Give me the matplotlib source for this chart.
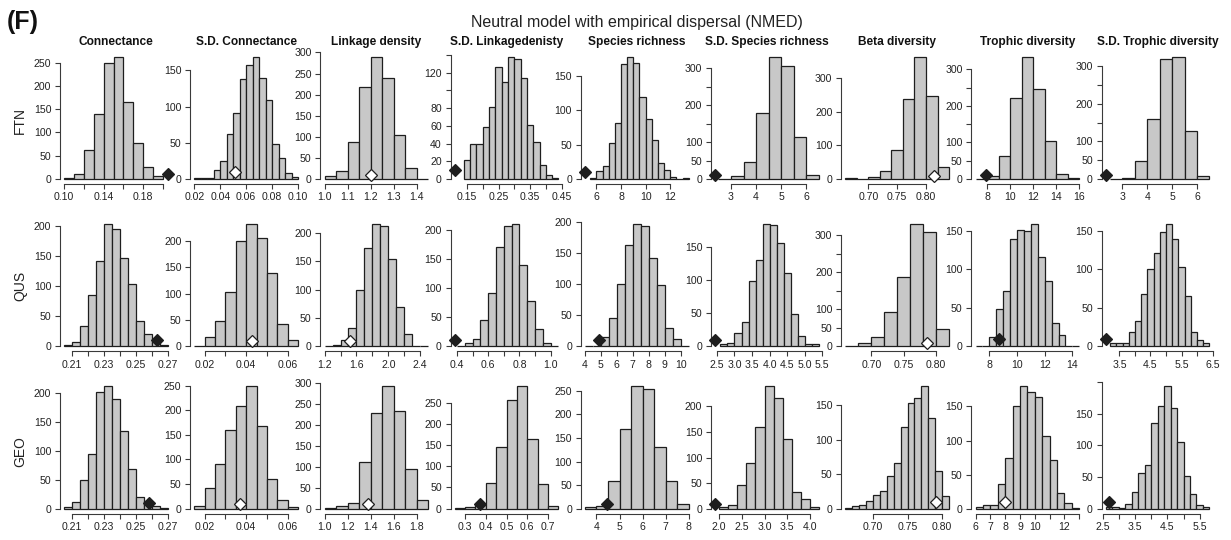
import numpy as np
import matplotlib
matplotlib.use("Agg")
import matplotlib.pyplot as plt

plt.rcParams['font.family'] = ['Liberation Sans', 'DejaVu Sans']

# ---- labels
panel_titles = ["Connectance", "S.D. Connectance", "Linkage density", "S.D. Linkagedenisty",
                "Species richness", "S.D. Species richness", "Beta diversity",
                "Trophic diversity", "S.D. Trophic diversity"]
row_names = ["FTN", "QUS", "GEO"]
main_title = "Neutral model with empirical dispersal (NMED)"

# ---- FTN row: histogram bins (start, width), counts, observed value
ftn_start = [0.10, 0.02, 1.0, 0.14, 5.5, 2.5, 0.66, 7, 2.5]
ftn_width = [0.01, 0.005, 0.05, 0.02, 0.5, 0.5, 0.02, 1, 0.5]
ftn_counts = [
    [2, 10, 63, 139, 250, 263, 165, 77, 25, 6],
    [1, 1, 1, 13, 25, 62, 91, 138, 157, 169, 139, 109, 48, 29, 8, 3],
    [6, 20, 88, 217, 290, 239, 105, 25, 1],
    [21, 39, 39, 59, 81, 126, 109, 138, 135, 114, 61, 42, 16, 4, 1],
    [2, 11, 19, 53, 81, 167, 178, 169, 119, 87, 57, 23, 13, 3, 0, 1],
    [1, 7, 45, 178, 331, 307, 113, 10],
    [2, 1, 6, 23, 87, 238, 364, 247, 35],
    [1, 9, 63, 221, 335, 246, 105, 14, 4],
    [1, 3, 49, 159, 318, 325, 128, 9],
]
ftn_obs = [0.205, 0.0514, 1.2, 0.111, 5.07, 2.37, 0.814, 7.9, 2.33]
ftn_black = [True, False, False, True, True, True, False, True, True]
ftn_xaxis = [(0.10, 0.20, 0.02), (0.02, 0.10, 0.02), (1.0, 1.4, 0.1), (0.15, 0.45, 0.05),
             (6, 12, 2), (3, 6, 1), (0.70, 0.80, 0.05), (8, 16, 2), (3, 6, 1)]
ftn_xlab = [["0.10", "0.14", "0.18"], ["0.02", "0.04", "0.06", "0.08", "0.10"],
            ["1.0", "1.1", "1.2", "1.3", "1.4"], ["0.15", "0.25", "0.35", "0.45"],
            ["6", "8", "10", "12"], ["3", "4", "5", "6"], ["0.70", "0.75", "0.80"],
            ["8", "10", "12", "14", "16"], ["3", "4", "5", "6"]]
ftn_yaxis = [(250, 50), (150, 50), (300, 50), (140, 20), (150, 50), (300, 50), (300, 100),
             (300, 50), (300, 50)]
ftn_yhide = [[], [], [], [100, 140], [], [150, 250], [], [150, 250], [150, 250]]

# ---- QUS row
qus_start = [0.205, 0.015, 1.2, 0.40, 4.0, 2.6, 0.66, 7.0, 3.2]
qus_width = [0.005, 0.005, 0.1, 0.05, 0.5, 0.2, 0.02, 0.5, 0.2]
qus_counts = [
    [2, 8, 34, 86, 143, 204, 196, 147, 104, 42, 20, 8, 2],
    [1, 18, 48, 103, 199, 232, 205, 139, 42, 12],
    [1, 3, 12, 33, 100, 173, 216, 212, 154, 69, 21, 1, 1],
    [1, 5, 13, 46, 91, 170, 206, 210, 140, 77, 29, 6, 1],
    [1, 1, 15, 46, 100, 163, 197, 193, 142, 99, 29, 12, 1],
    [4, 5, 20, 37, 98, 130, 184, 183, 156, 111, 49, 15, 3, 4],
    [2, 8, 25, 92, 187, 331, 309, 48],
    [1, 1, 12, 48, 72, 139, 151, 150, 159, 116, 85, 30, 15, 1, 1],
    [4, 4, 4, 19, 33, 68, 101, 121, 149, 159, 139, 103, 65, 19, 8, 4],
]
qus_obs = [0.263, 0.0428, 1.516, 0.385, 4.88, 2.45, 0.7856, 8.67, 3.06]
qus_black = [True, False, False, True, True, True, False, True, True]
qus_xaxis = [(0.21, 0.27, 0.01), (0.02, 0.06, 0.01), (1.2, 2.4, 0.2), (0.4, 1.0, 0.1),
             (4, 10, 1), (2.5, 5.5, 0.5), (0.70, 0.80, 0.05), (8, 14, 2), (3.5, 6.5, 0.5)]
qus_xlab = [["0.21", "0.23", "0.25", "0.27"], ["0.02", "0.04", "0.06"],
            ["1.2", "1.6", "2.0", "2.4"], ["0.4", "0.6", "0.8", "1.0"],
            ["4", "5", "6", "7", "8", "9", "10"],
            ["2.5", "3.0", "3.5", "4.0", "4.5", "5.0", "5.5"], ["0.70", "0.75", "0.80"],
            ["8", "10", "12", "14"], ["3.5", "4.5", "5.5", "6.5"]]
qus_yaxis = [(200, 50), (200, 50), (200, 50), (200, 50), (200, 50), (150, 50), (300, 50),
             (150, 50), (150, 50)]
qus_yhide = [[], [], [], [], [], [], [150, 250], [], []]

# ---- GEO row
geo_start = [0.205, 0.015, 1.0, 0.25, 3.5, 2.0, 0.66, 6.0, 2.6]
geo_width = [0.005, 0.005, 0.1, 0.05, 0.5, 0.2, 0.01, 0.5, 0.2]
geo_counts = [
    [3, 12, 50, 94, 201, 212, 190, 134, 69, 21, 13, 5, 1],
    [6, 41, 90, 160, 209, 249, 167, 60, 17, 3],
    [2, 6, 14, 110, 227, 292, 232, 95, 20],
    [2, 5, 11, 60, 146, 257, 289, 163, 58, 6],
    [4, 6, 58, 168, 260, 253, 130, 58, 9],
    [3, 8, 46, 90, 159, 240, 216, 136, 32, 18, 3],
    [1, 4, 5, 11, 20, 26, 47, 67, 119, 153, 161, 178, 131, 54, 19],
    [2, 6, 5, 36, 75, 150, 180, 171, 164, 107, 72, 23, 8, 1],
    [2, 3, 1, 8, 26, 57, 69, 136, 163, 194, 159, 105, 51, 23, 6, 2],
]
geo_obs = [0.2582, 0.0368, 1.373, 0.371, 4.47, 1.91, 0.7917, 8.0, 2.71]
geo_black = [True, False, False, True, True, True, False, False, True]
geo_xaxis = [(0.21, 0.27, 0.01), (0.02, 0.06, 0.01), (1.0, 1.8, 0.2), (0.3, 0.7, 0.1),
             (4, 8, 1), (2.0, 4.0, 0.5), (0.70, 0.80, 0.05), (6, 13, 1), (2.5, 5.5, 0.5)]
geo_xlab = [["0.21", "0.23", "0.25", "0.27"], ["0.02", "0.04", "0.06"],
            ["1.0", "1.2", "1.4", "1.6", "1.8"], ["0.3", "0.4", "0.5", "0.6", "0.7"],
            ["4", "5", "6", "7", "8"], ["2.0", "2.5", "3.0", "3.5", "4.0"],
            ["0.70", "0.75", "0.80"], ["6", "7", "8", "9", "10", "12"],
            ["2.5", "3.5", "4.5", "5.5"]]
geo_yaxis = [(200, 50), (250, 50), (300, 50), (250, 50), (250, 50), (200, 50), (150, 50),
             (150, 50), (200, 50)]
geo_yhide = [[], [], [], [], [], [], [], [], [200]]

rows = [
    (ftn_start, ftn_width, ftn_counts, ftn_obs, ftn_black, ftn_xaxis, ftn_xlab, ftn_yaxis, ftn_yhide),
    (qus_start, qus_width, qus_counts, qus_obs, qus_black, qus_xaxis, qus_xlab, qus_yaxis, qus_yhide),
    (geo_start, geo_width, geo_counts, geo_obs, geo_black, geo_xaxis, geo_xlab, geo_yaxis, geo_yhide),
]

# ---- layout (pixels)
W, H = 1231, 540
col_left, col_pitch, plot_w = 60, 130.2, 112
row_box = [(51.8, 183.9), (219.1, 351.2), (381.1, 513.6)]
label_y = [120, 286, 452]

BAR = "#c8c8c8"
INK = "#1e1e1e"
AXC = "#3a3a3a"

fig = plt.figure(figsize=(W / 100, H / 100), dpi=100)

for r, (starts, widths, counts_l, obs_l, black_l, xax_l, xlab_l, yax_l, yhide_l) in enumerate(rows):
    top, bot = row_box[r]
    for c in range(9):
        left = col_left + col_pitch * c
        ax = fig.add_axes([left / W, 1 - bot / H, plot_w / W, (bot - top) / H])
        counts = counts_l[c]
        edges = starts[c] + widths[c] * np.arange(len(counts) + 1)
        ax.bar(edges[:-1], counts, width=widths[c], align="edge", color=BAR,
               edgecolor=INK, linewidth=0.9)

        obs = obs_l[c]
        lo, hi = min(edges[0], obs), max(edges[-1], obs)
        pad = 0.04 * (hi - lo)
        ax.set_xlim(lo - pad, hi + pad)
        m = max(counts)
        ax.set_ylim(-0.04 * m, 1.04 * m)

        ax.plot(obs, 10, marker="D", ms=6.6, mfc=INK if black_l[c] else "white",
                mec=INK, mew=0.9, clip_on=False, zorder=5)

        # x axis in the R style: detached line from first to last tick
        a, b, step = xax_l[c]
        xt = np.round(np.arange(a, b + step / 2, step), 6)
        xl = []
        for t in xt:
            hit = [s for s in xlab_l[c] if abs(float(s) - t) < 1e-6]
            xl.append(hit[0] if hit else "")
        ax.set_xticks(xt, xl)

        ytop, ystep = yax_l[c]
        yt = np.arange(0, ytop + 1, ystep)
        yl = ["" if v in yhide_l[c] else str(v) for v in yt]
        ax.set_yticks(yt, yl)

        for s in ["top", "right"]:
            ax.spines[s].set_visible(False)
        ax.spines["bottom"].set_bounds(xt[0], xt[-1])
        ax.spines["left"].set_bounds(0, ytop)
        for s in ["bottom", "left"]:
            ax.spines[s].set_color(AXC)
            ax.spines[s].set_linewidth(0.8)
        ax.tick_params(axis="both", length=3.8, width=0.8, color=AXC, labelsize=7.6,
                       labelcolor="#222222")
        ax.tick_params(axis="x", pad=2.2)
        ax.tick_params(axis="y", pad=2.5)
        ax.patch.set_alpha(0)

        if r == 0:
            fig.text((left + plot_w / 2) / W, 1 - 42 / H, panel_titles[c], ha="center",
                     va="center", fontsize=8.6, fontweight="bold", color="#111111")
    fig.text(20 / W, 1 - label_y[r] / H, row_names[r], rotation=90, ha="center",
             va="center", fontsize=10, color="#222222")

fig.text(637 / W, 1 - 23 / H, main_title, ha="center", va="center", fontsize=11.5,
         color="#222222")
fig.text(7 / W, 1 - 22 / H, "(F)", ha="left", va="center", fontsize=18,
         fontweight="bold", color="#111111")

fig.savefig("out.png", dpi=100)
